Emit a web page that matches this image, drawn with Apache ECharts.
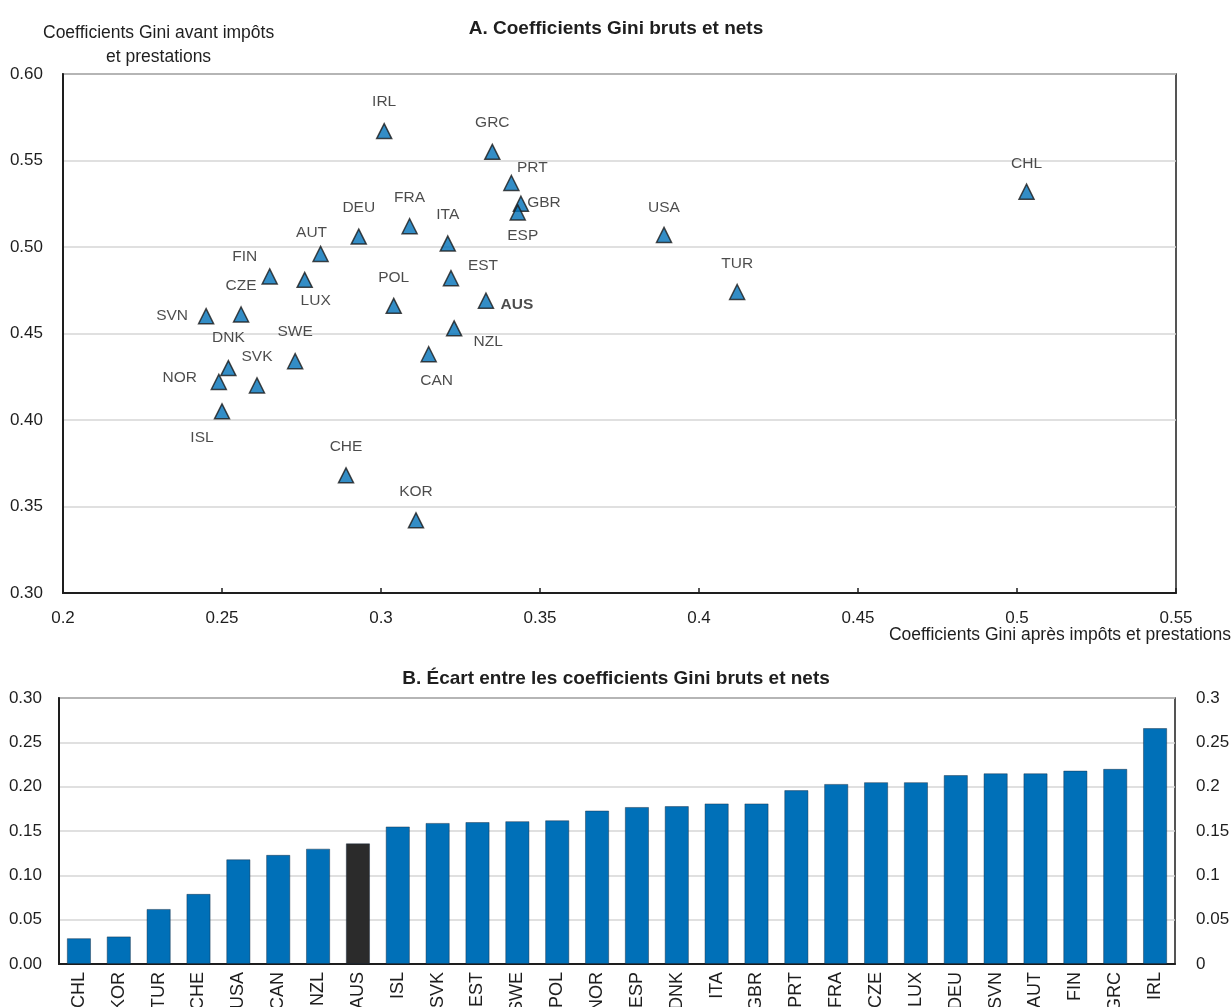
<!DOCTYPE html>
<html>
<head>
<meta charset="utf-8">
<script src="https://cdn.jsdelivr.net/npm/echarts@6/dist/echarts.min.js"></script>
<style>
  html, body { margin: 0; padding: 0; background: #ffffff; }
  #chart { width: 1232px; height: 1007px; }
</style>
</head>
<body>
<div id="chart"></div>
<script>
// Gini coefficients, working-age population
const countries = ['IRL','GRC','PRT','GBR','ESP','CHL','USA','TUR','DEU','FRA','ITA','AUT','FIN','LUX',
                   'EST','POL','AUS','CZE','SVN','NZL','SWE','CAN','DNK','NOR','SVK','ISL','CHE','KOR'];
// after taxes and transfers (net)
const giniNet = [0.301,0.335,0.341,0.344,0.343,0.503,0.389,0.412,0.293,0.309,0.321,0.281,0.265,0.276,
                 0.322,0.304,0.333,0.256,0.245,0.323,0.273,0.315,0.252,0.249,0.261,0.250,0.289,0.311];
// before taxes and transfers (gross)
const giniGross = [0.567,0.555,0.537,0.525,0.520,0.532,0.507,0.474,0.506,0.512,0.502,0.496,0.483,0.481,
                   0.482,0.466,0.469,0.461,0.460,0.453,0.434,0.438,0.430,0.422,0.420,0.405,0.368,0.342];
// panel B ordering (smallest gap first)
const barOrder = ['CHL','KOR','TUR','CHE','USA','CAN','NZL','AUS','ISL','SVK','EST','SWE','POL','NOR',
                  'ESP','DNK','ITA','GBR','PRT','FRA','CZE','LUX','DEU','SVN','AUT','FIN','GRC','IRL'];
const highlight = 'AUS';

// label placement around each marker: [dx, dy] from the marker centre
const labelOffset = {
  IRL:[0,-29], GRC:[0,-29], PRT:[21,-15], GBR:[23,-1], ESP:[5,23], CHL:[0,-28], USA:[0,-27],
  TUR:[0,-28], DEU:[0,-29], FRA:[0,-29], ITA:[0,-29], AUT:[-9,-21], FIN:[-25,-20], LUX:[11,21],
  EST:[32,-12], POL:[0,-28], AUS:[31,4], CZE:[0,-29], SVN:[-34,0], NZL:[34,13], SWE:[0,-29],
  CAN:[8,26], DNK:[0,-30], NOR:[-39,-4], SVK:[0,-29], ISL:[-20,26], CHE:[0,-29], KOR:[0,-29]
};

const BLUE = '#0070b8';
const DARK = '#2b2b2b';
const INK = '#1e1e1e';
const GRIDC = '#d6d6d6';
const FONT = '"Liberation Sans", Arial, sans-serif';

const trim = v => String(+v.toFixed(2));

const scatterData = countries.map((c, i) => ({
  name: c,
  value: [giniNet[i], giniGross[i]],
  label: {
    offset: labelOffset[c],
    fontWeight: c === highlight ? 'bold' : 'normal'
  }
}));

const gap = barOrder.map(c => {
  const i = countries.indexOf(c);
  return +(giniGross[i] - giniNet[i]).toFixed(3);
});

const chart = echarts.init(document.getElementById('chart'), null, { renderer: 'canvas' });

chart.setOption({
  animation: false,
  backgroundColor: '#ffffff',
  title: [
    { text: 'A. Coefficients Gini bruts et nets', left: 'center', top: 14,
      textStyle: { fontFamily: FONT, fontSize: 19, fontWeight: 'bold', color: INK } },
    { text: 'B. Écart entre les coefficients Gini bruts et nets', left: 'center', top: 664,
      textStyle: { fontFamily: FONT, fontSize: 19, fontWeight: 'bold', color: INK } }
  ],
  graphic: [
    { type: 'text', left: 43, top: 21,
      style: { text: 'Coefficients Gini avant impôts\net prestations', textAlign: 'center',
               font: '17.5px ' + FONT, fill: INK, lineHeight: 24 } },
    { type: 'text', right: 1, top: 626,
      style: { text: 'Coefficients Gini après impôts et prestations', font: '17.5px ' + FONT, fill: INK } }
  ],
  grid: [
    { left: 63, right: 56, top: 74, bottom: 414, show: true, borderColor: INK, borderWidth: 1.5,
      outerBoundsMode: 'none' },
    { left: 59, right: 57, top: 698, bottom: 43, show: true, borderColor: INK, borderWidth: 1.5,
      outerBoundsMode: 'none' }
  ],
  xAxis: [
    { type: 'value', gridIndex: 0, min: 0.2, max: 0.55, interval: 0.05,
      axisLine: { show: true, onZero: false, lineStyle: { color: INK, width: 2 } },
      axisTick: { show: true, inside: true, length: 5, lineStyle: { color: INK, width: 1.5 } },
      axisLabel: { formatter: trim, margin: 17, fontSize: 17, fontFamily: FONT, color: INK },
      splitLine: { show: false } },
    { type: 'category', gridIndex: 1, data: barOrder,
      axisLine: { show: true, lineStyle: { color: INK, width: 2 } },
      axisTick: { show: false },
      axisLabel: { rotate: 90, interval: 0, margin: 8, fontSize: 18, fontFamily: FONT, color: INK },
      splitLine: { show: false } }
  ],
  yAxis: [
    { type: 'value', gridIndex: 0, min: 0.3, max: 0.6, interval: 0.05,
      axisLine: { show: true, onZero: false, lineStyle: { color: INK, width: 2 } },
      axisTick: { show: false },
      axisLabel: { formatter: v => v.toFixed(2), margin: 20, fontSize: 17, fontFamily: FONT, color: INK },
      splitLine: { show: true, lineStyle: { color: GRIDC, width: 1.5 } } },
    { type: 'value', gridIndex: 1, min: 0, max: 0.3, interval: 0.05, position: 'left',
      axisLine: { show: true, lineStyle: { color: INK, width: 2 } },
      axisTick: { show: false },
      axisLabel: { formatter: v => v.toFixed(2), margin: 17, fontSize: 17, fontFamily: FONT, color: INK },
      splitLine: { show: true, lineStyle: { color: GRIDC, width: 1.5 } } },
    { type: 'value', gridIndex: 1, min: 0, max: 0.3, interval: 0.05, position: 'right',
      axisLine: { show: false }, axisTick: { show: false },
      axisLabel: { formatter: trim, margin: 21, fontSize: 17, fontFamily: FONT, color: INK },
      splitLine: { show: false } }
  ],
  series: [
    { type: 'scatter', xAxisIndex: 0, yAxisIndex: 0,
      symbol: 'triangle', symbolSize: 15,
      itemStyle: { color: BLUE, borderColor: '#1a1a1a', borderWidth: 1.5 },
      label: { show: true, position: 'inside', formatter: '{b}', fontSize: 15.5,
               fontFamily: FONT, color: INK, textBorderWidth: 0 },
      data: scatterData },
    { type: 'bar', xAxisIndex: 1, yAxisIndex: 1, barWidth: 24,
      itemStyle: {
        color: p => (p.name === highlight ? DARK : BLUE),
        borderColor: 'rgba(20,40,60,0.55)', borderWidth: 0.8
      },
      data: gap }
  ]
});
</script>
</body>
</html>
